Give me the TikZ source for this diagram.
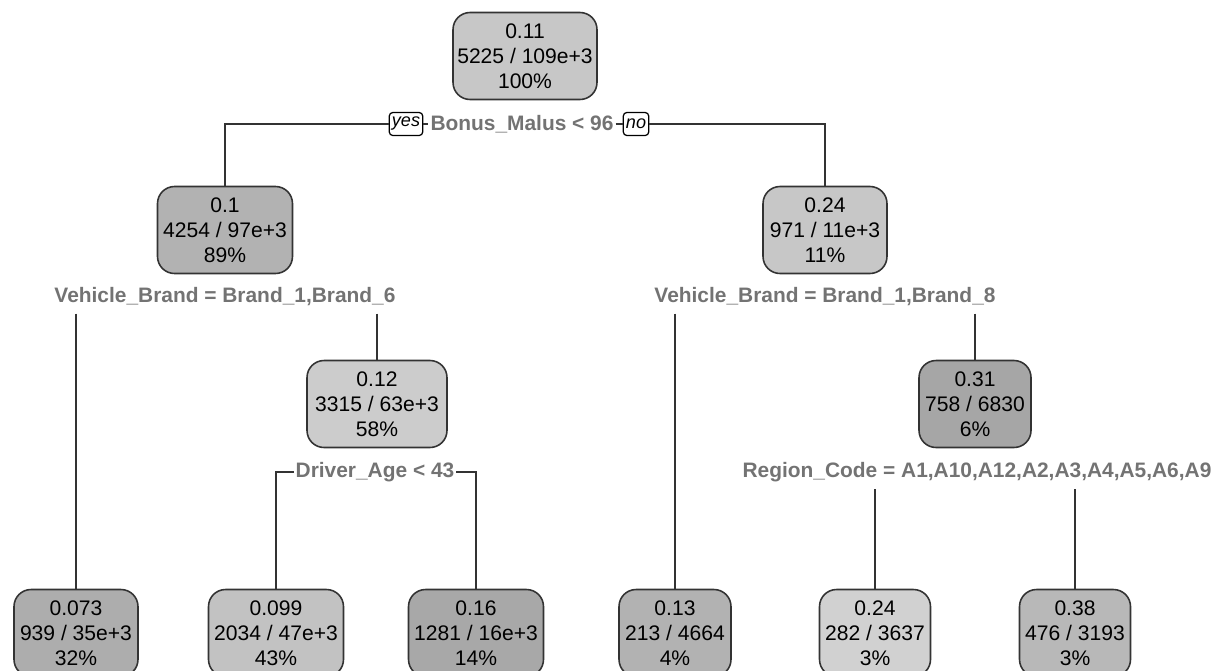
\documentclass[tikz,border=0pt]{standalone}
\usepackage{fontspec}
\setsansfont{Liberation Sans}
\usepackage{tikz}

\begin{document}
\begin{tikzpicture}[x=0.02cm, y=-0.02cm,
		node_style/.style={rectangle,rounded corners=0.34cm,draw=black!80,line width=0.9pt,minimum height=1.74cm,inner sep=2pt,align=center,font=\sffamily\fontsize{12}{14.2}\selectfont},
		split_style/.style={text=black!55,inner xsep=1pt,inner ysep=4pt,font=\sffamily\bfseries\fontsize{11.9}{14}\selectfont},
		answer_style/.style={draw=black,fill=white,rounded corners=2pt,line width=0.7pt,inner xsep=1.5pt,inner ysep=1pt,minimum height=0.46cm,font=\sffamily\itshape\fontsize{10.3}{11}\selectfont},
		edge_style/.style={draw=black!80,line width=0.9pt}]

		\useasboundingbox (0,0) rectangle (1222,670);

		\node[node_style,fill=black!22,minimum width=2.88cm] (n0) at (525,56)  {0.11\\5225 / 109e+3\\100\%};
		\node[node_style,fill=black!30,minimum width=2.7cm] (n1) at (225,230)  {0.1\\4254 / 97e+3\\89\%};
		\node[node_style,fill=black!22,minimum width=2.48cm] (n2) at (825,230)  {0.24\\971 / 11e+3\\11\%};
		\node[node_style,fill=black!20,minimum width=2.8cm] (n3) at (377,404)  {0.12\\3315 / 63e+3\\58\%};
		\node[node_style,fill=black!35,minimum width=2.24cm] (n4) at (975,404)  {0.31\\758 / 6830\\6\%};
		\node[node_style,fill=black!32,minimum width=2.48cm] (n5) at (76,633)  {0.073\\939 / 35e+3\\32\%};
		\node[node_style,fill=black!24,minimum width=2.7cm] (n6) at (276,633)  {0.099\\2034 / 47e+3\\43\%};
		\node[node_style,fill=black!34,minimum width=2.7cm] (n7) at (476,633)  {0.16\\1281 / 16e+3\\14\%};
		\node[node_style,fill=black!30,minimum width=2.24cm] (n8) at (675,633)  {0.13\\213 / 4664\\4\%};
		\node[node_style,fill=black!18,minimum width=2.22cm] (n9) at (875,633)  {0.24\\282 / 3637\\3\%};
		\node[node_style,fill=black!28,minimum width=2.22cm] (n10) at (1075,633)  {0.38\\476 / 3193\\3\%};

		\node[split_style] (s0) at (522,124)  {Bonus\_Malus < 96};
		\node[answer_style] (yes) at (406,124)  {yes};
		\node[answer_style] (no) at (636,124)  {no};
		\node[split_style] (s1) at (225,297)  {Vehicle\_Brand = Brand\_1,Brand\_6};
		\node[split_style] (s2) at (825,297)  {Vehicle\_Brand = Brand\_1,Brand\_8};
		\node[split_style] (s3) at (375,472)  {Driver\_Age < 43};
		\node[split_style] (s4) at (977,472)  {Region\_Code = A1,A10,A12,A2,A3,A4,A5,A6,A9};

		\draw[edge_style]  (yes.west) -| (n1.north);
		\draw[edge_style]  (yes.east) -- (s0.west);
		\draw[edge_style]  (s0.east) -- (no.west);
		\draw[edge_style]  (no.east) -| (n2.north);
		\draw[edge_style]  (s1.south -| n5.north) -- (n5.north);
		\draw[edge_style]  (s1.south -| n3.north) -- (n3.north);
		\draw[edge_style]  (s2.south -| n8.north) -- (n8.north);
		\draw[edge_style]  (s2.south -| n4.north) -- (n4.north);
		\draw[edge_style]  (s3.west) -| (n6.north);
		\draw[edge_style]  (s3.east) -| (n7.north);
		\draw[edge_style]  (s4.south -| n9.north) -- (n9.north);
		\draw[edge_style]  (s4.south -| n10.north) -- (n10.north);
\end{tikzpicture}
\end{document}
